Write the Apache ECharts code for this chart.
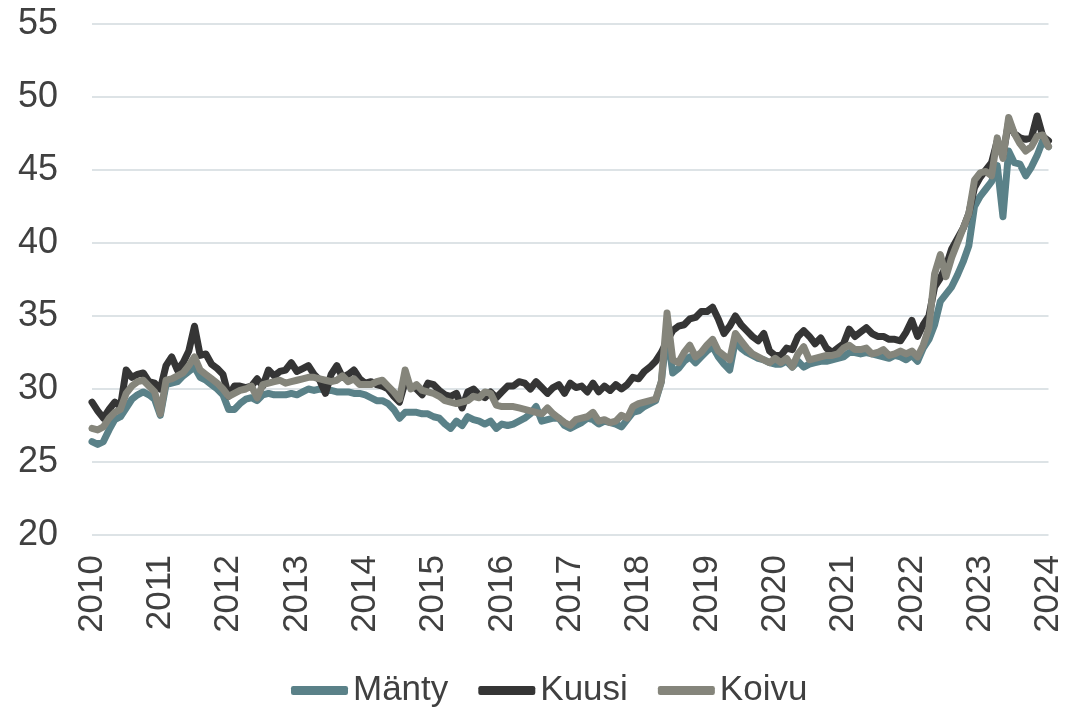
<!DOCTYPE html>
<html>
<head>
<meta charset="utf-8">
<script src="https://cdn.jsdelivr.net/npm/echarts@6/dist/echarts.min.js"></script>
<style>
  html, body { margin: 0; padding: 0; background: #fff; }
  #chart { width: 1066px; height: 707px; }
</style>
</head>
<body>
<div id="chart"></div>
<script>
// vuodet (x-akselin tikit) ja kuukaudet 2010-01 ... 2024-01
const years = ['2010', '2011', '2012', '2013', '2014', '2015', '2016', '2017',
  '2018', '2019', '2020', '2021', '2022', '2023', '2024'];
const months = [];
years.forEach((y, i) => {
  const n = i === years.length - 1 ? 1 : 12;
  for (let m = 1; m <= n; m++) months.push(y + '-' + String(m).padStart(2, '0'));
});

const manty = [
  26.4, 26.2, 26.4, 27.2, 27.9, 28.1, 28.7, 29.3, 29.6, 29.8, 29.6, 29.3,
  28.2, 30.3, 30.4, 30.5, 30.9, 31.2, 31.5, 30.8, 30.6, 30.3, 30.0, 29.6,
  28.6, 28.6, 29.0, 29.3, 29.4, 29.2, 29.6, 29.7, 29.6, 29.6, 29.6, 29.7,
  29.6, 29.8, 30.0, 29.9, 30.0, 29.9, 29.9, 29.8, 29.8, 29.8, 29.7, 29.7,
  29.6, 29.4, 29.2, 29.2, 29.0, 28.6, 28.0, 28.4, 28.4, 28.4, 28.3, 28.3,
  28.1, 28.0, 27.6, 27.3, 27.8, 27.5, 28.1, 27.9, 27.8, 27.6, 27.8, 27.3,
  27.6, 27.5, 27.6, 27.8, 28.0, 28.3, 28.8, 27.8, 27.9, 28.0, 28.0, 27.5,
  27.3, 27.5, 27.7, 28.0, 27.9, 27.6, 27.8, 27.7, 27.6, 27.4, 27.9, 28.4,
  28.5, 28.8, 29.0, 29.2, 30.5, 34.0, 31.1, 31.4, 31.9, 32.2, 31.8, 32.2,
  32.6, 32.9, 32.2, 31.7, 31.3, 33.3, 32.8, 32.5, 32.3, 32.1, 32.0, 31.8,
  31.7, 31.7, 31.9, 31.5, 31.9, 31.5, 31.7, 31.8, 31.9, 31.9, 32.0, 32.1,
  32.2, 32.5, 32.5, 32.4, 32.5, 32.4, 32.3, 32.2, 32.1, 32.3, 32.2, 32.0,
  32.3, 31.9, 32.8, 33.4, 34.4, 36.0, 36.5, 37.0, 37.8, 38.7, 39.8, 42.5,
  43.2, 43.7, 44.2, 45.3, 41.8, 46.3, 45.5, 45.4, 44.6, 45.2, 46.0, 47.0,
  46.6
];

const kuusi = [
  29.1, 28.5, 28.0, 28.6, 29.1, 28.8, 31.3, 30.8, 31.0, 31.1, 30.5, 30.4,
  30.0, 31.6, 32.2, 31.3, 31.8, 32.6, 34.3, 32.3, 32.4, 31.7, 31.4, 31.0,
  29.5, 30.2, 30.2, 30.1, 30.2, 30.7, 30.2, 31.3, 30.9, 31.2, 31.3, 31.8,
  31.2, 31.4, 31.6, 31.0, 30.6, 29.7, 31.0, 31.6, 30.8, 31.0, 31.3, 30.7,
  30.4, 30.5, 30.3, 30.2, 30.0, 29.5, 29.1, 30.5, 30.2, 30.0, 29.6, 30.4,
  30.3, 29.9, 29.6, 29.5, 29.7, 28.7, 29.8, 30.0, 29.6, 29.4, 29.8, 29.4,
  29.8, 30.2, 30.2, 30.5, 30.4, 30.0, 30.5, 30.1, 29.7, 30.1, 30.3, 29.7,
  30.4, 30.1, 30.2, 29.8, 30.4, 29.8, 30.2, 29.9, 30.3, 30.0, 30.3, 30.8,
  30.7, 31.2, 31.5, 31.9, 32.5, 33.3, 34.0, 34.3, 34.4, 34.8, 34.9, 35.3,
  35.3, 35.6, 34.8, 33.8, 34.3, 35.0, 34.4, 34.0, 33.6, 33.3, 33.8, 32.6,
  32.3, 32.3, 32.8, 32.7, 33.6, 34.0, 33.6, 33.1, 33.5, 32.8, 32.5, 32.8,
  33.1, 34.1, 33.6, 33.9, 34.2, 33.8, 33.6, 33.6, 33.4, 33.4, 33.3, 33.9,
  34.7, 33.6, 34.4, 35.0, 37.0, 37.6, 38.4, 39.6, 40.3, 41.0, 42.0, 43.8,
  44.5, 45.0, 45.5, 47.0, 46.0, 48.3, 47.5, 47.2, 47.1, 47.2, 48.7, 47.3,
  47.0
];

const koivu = [
  27.3, 27.2, 27.4, 28.0, 28.4, 28.6, 29.7, 30.2, 30.5, 30.6, 30.2, 29.8,
  28.3, 30.6, 30.7, 30.9, 31.1, 31.6, 32.2, 31.3, 31.0, 30.7, 30.4, 30.0,
  29.5, 29.7, 29.9, 30.0, 30.2, 29.4, 30.3, 30.4, 30.5, 30.6, 30.4, 30.5,
  30.6, 30.7, 30.8, 30.8, 30.7, 30.6, 30.5, 30.6, 30.9, 30.5, 30.7, 30.3,
  30.3, 30.3, 30.5, 30.6, 30.2, 29.8, 29.3, 31.3, 30.0, 30.3, 29.9, 29.8,
  29.7, 29.5, 29.2, 29.1, 29.0, 29.1, 29.2, 29.5, 29.4, 29.8, 29.7, 28.9,
  28.8, 28.8, 28.8, 28.7, 28.6, 28.5, 28.4, 28.3, 28.7, 28.3, 28.0, 27.7,
  27.5, 27.9, 28.0, 28.1, 28.4, 27.8, 27.9, 27.7, 27.8, 28.2, 28.0, 28.8,
  29.0, 29.1, 29.2, 29.3, 30.5, 35.2, 32.0, 31.8, 32.5, 33.0, 32.2, 32.5,
  33.0, 33.4, 32.6, 32.3, 32.0, 33.8, 33.3, 32.8, 32.4, 32.2, 32.0, 31.8,
  32.1, 31.8, 32.1, 31.5, 32.4, 32.9, 32.0, 32.1, 32.2, 32.3, 32.3, 32.4,
  32.8, 33.0, 32.7, 32.7, 32.8, 32.4, 32.5, 32.7, 32.3, 32.4, 32.6, 32.4,
  32.6, 32.2, 33.0, 34.2, 37.9, 39.2, 37.7, 39.0, 40.0, 41.0, 42.0, 44.3,
  44.8, 44.9, 44.6, 47.2, 45.8, 48.6, 47.5, 46.8, 46.3, 46.6, 47.3, 47.4,
  46.6
];

const textColor = '#404040';
const font = 'Liberation Sans, Arial, sans-serif';

function line(name, data, color) {
  return {
    name: name,
    type: 'line',
    data: data,
    showSymbol: false,
    lineStyle: { width: 7, color: color, cap: 'round', join: 'round' },
    itemStyle: { color: color }
  };
}

const chart = echarts.init(document.getElementById('chart'));
chart.setOption({
  animation: false,
  backgroundColor: '#ffffff',
  textStyle: { fontFamily: font },
  grid: { left: 92, right: 8, top: 24, bottom: 172 },
  legend: {
    left: 286,
    top: 668,
    icon: 'roundRect',
    itemWidth: 57,
    itemHeight: 9,
    itemGap: 30,
    textStyle: { fontSize: 35, color: textColor, fontFamily: font }
  },
  xAxis: {
    type: 'category',
    data: months,
    boundaryGap: false,
    axisLine: { show: false },
    axisTick: { show: false },
    axisLabel: {
      interval: 11,
      rotate: 90,
      margin: 20,
      fontSize: 35,
      color: textColor,
      fontFamily: font,
      formatter: v => v.slice(0, 4)
    }
  },
  yAxis: {
    type: 'value',
    min: 20,
    max: 55,
    interval: 5,
    axisLine: { show: false },
    axisTick: { show: false },
    axisLabel: { fontSize: 36, color: textColor, margin: 34, fontFamily: font },
    splitLine: { lineStyle: { color: '#dde3e6', width: 2 } }
  },
  series: [
    line('Mänty', manty, '#5a8188'),
    line('Kuusi', kuusi, '#353535'),
    line('Koivu', koivu, '#85857b')
  ]
});
</script>
</body>
</html>
